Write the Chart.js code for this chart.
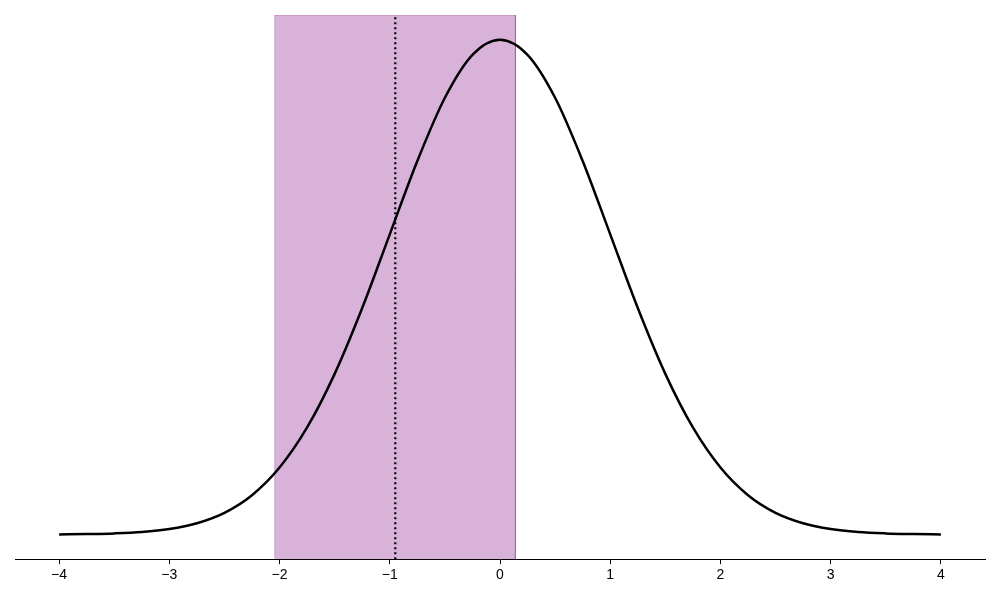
<!DOCTYPE html>
<html>
<head>
<meta charset="utf-8">
<script src="https://cdn.jsdelivr.net/npm/chart.js@4/dist/chart.umd.min.js"></script>
<style>
  html, body { margin: 0; padding: 0; background: #fff; }
  #wrap { width: 1000px; height: 600px; }
</style>
</head>
<body>
<div id="wrap"><canvas id="c" width="1000" height="600"></canvas></div>
<script>
// Curve (density of the bell curve)
const xValues = [-4, -3.75, -3.5, -3.25, -3, -2.75, -2.5, -2.25, -2, -1.75, -1.5, -1.25, -1, -0.75, -0.5, -0.25,
                 0, 0.25, 0.5, 0.75, 1, 1.25, 1.5, 1.75, 2, 2.25, 2.5, 2.75, 3, 3.25, 3.5, 3.75, 4];
const yValues = [0.0001, 0.0004, 0.0009, 0.0020, 0.0044, 0.0091, 0.0175, 0.0317, 0.0540, 0.0863, 0.1295, 0.1826,
                 0.2420, 0.3011, 0.3521, 0.3867, 0.3989, 0.3867, 0.3521, 0.3011, 0.2420, 0.1826, 0.1295, 0.0863,
                 0.0540, 0.0317, 0.0175, 0.0091, 0.0044, 0.0020, 0.0009, 0.0004, 0.0001];
// Shaded band and dotted marker
const bandStart = -2.044;
const bandEnd = 0.14;
const markerX = -0.95;
// Axis
const xTicks = [-4, -3, -2, -1, 0, 1, 2, 3, 4];
const xMin = -4.4, xMax = 4.4;
const yMin = -0.0199, yMax = 0.4188;

const curve = xValues.map((x, i) => ({ x: x, y: yValues[i] }));
const band = [
  { x: bandStart, y: yMin }, { x: bandStart, y: yMax },
  { x: bandEnd, y: yMax }, { x: bandEnd, y: yMin }
];
const marker = [{ x: markerX, y: yMin }, { x: markerX, y: yMax }];

new Chart(document.getElementById('c'), {
  type: 'line',
  data: {
    datasets: [
      {
        data: curve, order: 0,
        borderColor: '#000', borderWidth: 2.5, pointRadius: 0,
        cubicInterpolationMode: 'monotone', fill: false
      },
      {
        data: marker, order: 1,
        borderColor: '#000', borderWidth: 2.2, borderDash: [2, 3], borderCapStyle: 'butt',
        pointRadius: 0, fill: false
      },
      {
        data: band, order: 2,
        borderColor: 'rgba(128,0,128,0.3)', backgroundColor: 'rgba(128,0,128,0.3)',
        borderWidth: 1, pointRadius: 0, fill: 'start', tension: 0
      }
    ]
  },
  options: {
    responsive: false,
    animation: false,
    devicePixelRatio: 1,
    layout: { padding: { left: 15, right: 15, top: 15, bottom: 13 } },
    plugins: { legend: { display: false }, tooltip: { enabled: false } },
    scales: {
      x: {
        type: 'linear', min: xMin, max: xMax,
        afterBuildTicks: (axis) => { axis.ticks = xTicks.map(v => ({ value: v })); },
        grid: { drawOnChartArea: false, drawTicks: true, tickLength: 5, color: '#000' },
        border: { display: true, color: '#000', width: 1 },
        ticks: {
          color: '#000', padding: 3, maxRotation: 0,
          font: { family: 'Liberation Sans', size: 14 },
          callback: (v) => (v < 0 ? '\u2212' + Math.abs(v) : String(v))
        }
      },
      y: {
        type: 'linear', min: yMin, max: yMax, display: false
      }
    }
  }
});
</script>
</body>
</html>
